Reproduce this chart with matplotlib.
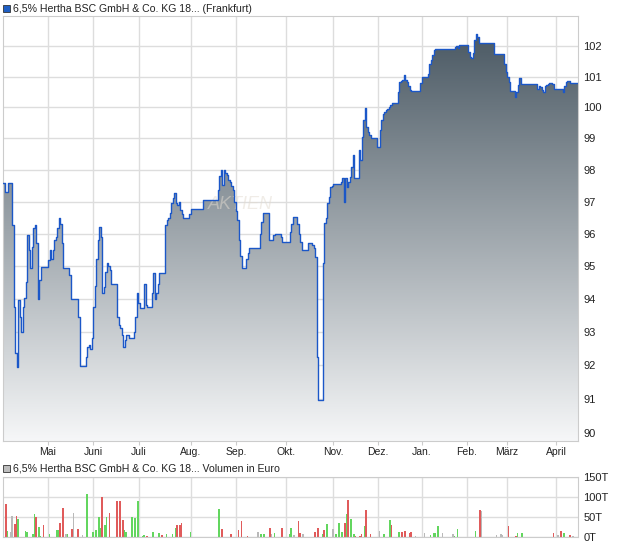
import numpy as np
import matplotlib
matplotlib.use('Agg')
import matplotlib.pyplot as plt
from matplotlib.colors import LinearSegmentedColormap
from matplotlib.patches import Rectangle
from matplotlib.ticker import NullLocator

plt.rcParams['font.family'] = ['Liberation Sans', 'DejaVu Sans']

# price series: day offset where the quote changes, and the new quote
days = [0, 1, 3, 6, 7, 8, 9, 10, 11, 12, 13, 14, 15, 16, 17, 18, 19, 20, 21, 22,
        23, 24, 25, 30, 31, 32, 33, 34, 35, 36, 37, 38, 39, 40, 44, 45, 50, 51, 55, 56,
        57, 58, 59, 60, 61, 62, 63, 64, 65, 66, 67, 68, 69, 70, 71, 72, 76, 77, 78, 79,
        80, 81, 82, 84, 87, 88, 89, 90, 91, 94, 95, 96, 99, 100, 101, 102, 103, 104, 108, 109,
        110, 111, 112, 113, 114, 115, 116, 117, 118, 119, 120, 124, 125, 133, 143, 144, 145, 146, 147, 148,
        149, 150, 151, 152, 153, 154, 155, 156, 157, 158, 159, 162, 163, 164, 171, 172, 173, 177, 180, 181,
        185, 186, 191, 192, 193, 196, 197, 198, 199, 203, 206, 207, 208, 209, 210, 213, 214, 215, 216, 217,
        218, 219, 220, 225, 226, 227, 228, 229, 230, 231, 232, 233, 234, 237, 238, 239, 240, 241, 242, 243,
        244, 245, 249, 251, 252, 253, 254, 255, 256, 257, 258, 259, 263, 264, 265, 266, 267, 268, 269, 270,
        271, 272, 278, 279, 283, 284, 285, 286, 287, 288, 292, 301, 302, 303, 304, 310, 311, 312, 313, 314,
        315, 316, 317, 327, 334, 335, 336, 337, 338, 341, 342, 343, 344, 345, 356, 357, 358, 359, 360, 361,
        362, 363, 364, 366, 367, 373, 374, 375, 376, 378, 383]
prices = [97.57, 97.31, 97.57, 96.26, 93.75, 92.36, 91.95, 93.96, 93.45, 93.0, 93.75, 94.02, 94.51, 95.95, 95.49, 94.93, 95.59, 96.17, 96.26, 95.7,
          94.0, 94.57, 94.97, 95.18, 95.49, 95.2, 95.5, 95.8, 95.9, 96.17, 96.47, 96.3, 95.7, 94.93, 94.72, 94.0, 93.45, 91.97, 92.25, 92.55,
          92.6, 92.48, 92.81, 93.75, 94.4, 95.2, 95.8, 96.21, 95.9, 94.17, 94.36, 94.8, 95.1, 95.0, 94.87, 94.46, 93.45, 93.2, 93.1, 92.9,
          92.55, 92.75, 92.9, 92.8, 93.0, 93.45, 94.17, 93.86, 93.71, 94.46, 93.8, 93.75, 94.17, 94.77, 94.0, 94.17, 94.46, 94.77, 96.26, 96.42,
          96.5, 96.63, 96.94, 97.1, 97.26, 96.94, 96.9, 97.0, 96.73, 96.6, 96.47, 96.6, 96.78, 97.06, 97.36, 97.8, 97.99, 97.52, 97.99, 97.9,
          97.83, 97.67, 97.6, 97.5, 97.36, 97.0, 96.7, 96.42, 95.8, 95.3, 94.95, 95.2, 95.4, 95.54, 96.0, 96.37, 96.63, 95.8, 95.95, 96.0,
          95.9, 95.74, 96.05, 96.3, 96.52, 96.3, 96.0, 95.74, 95.49, 95.71, 95.65, 95.55, 95.28, 92.25, 90.97, 95.1, 96.32, 96.5, 96.94, 97.15,
          97.46, 97.5, 97.54, 97.6, 97.73, 96.99, 97.73, 97.46, 97.6, 97.78, 98.1, 98.47, 97.73, 98.63, 98.31, 99.05, 99.6, 99.97, 99.37, 99.2,
          99.1, 99.0, 98.73, 99.27, 99.6, 99.8, 99.85, 99.93, 99.95, 100.0, 100.07, 100.13, 100.5, 100.83, 100.85, 100.9, 101.05, 100.88, 100.82, 100.7,
          100.55, 100.53, 100.8, 100.99, 101.1, 101.4, 101.55, 101.7, 101.87, 101.89, 101.92, 101.98, 102.0, 101.95, 102.03, 101.81, 101.65, 101.61, 101.76, 102.2,
          102.4, 102.3, 102.1, 101.73, 101.4, 101.15, 101.0, 100.83, 100.53, 100.34, 100.5, 100.72, 100.94, 100.75, 100.61, 100.7, 100.65, 100.55, 100.5, 100.69,
          100.72, 100.75, 100.78, 100.75, 100.58, 100.5, 100.7, 100.82, 100.85, 100.79, 100.79]

# volume in thousand euro, colour: g = up, r = down, n = unchanged
vol_days = [2, 3, 5, 6, 8, 9, 10, 15, 16, 20, 21, 22, 24, 25, 27, 31, 36, 37, 38, 40,
            42, 43, 46, 47, 50, 53, 56, 60, 62, 64, 65, 66, 68, 69, 71, 76, 78, 80, 81, 82,
            86, 88, 90, 93, 94, 96, 100, 104, 106, 109, 113, 115, 116, 118, 119, 125, 144, 146, 152, 157,
            159, 163, 170, 172, 174, 178, 179, 181, 186, 191, 192, 194, 197, 198, 200, 208, 210, 213, 214, 216,
            220, 222, 224, 226, 228, 229, 230, 232, 234, 235, 238, 239, 241, 242, 245, 251, 254, 258, 259, 264,
            266, 268, 271, 272, 275, 281, 285, 287, 288, 290, 293, 300, 301, 303, 315, 318, 319, 329, 332, 333,
            337, 342, 343, 346, 367, 370, 372, 374, 378, 380]
vol_values = [83, 15, 13, 52, 32, 52, 45, 15, 12, 7, 58, 49, 24, 2, 30, 7, 17, 17, 35, 73,
              7, 7, 20, 60, 20, 6, 108, 12, 17, 50, 22, 101, 30, 50, 60, 91, 89, 42, 17, 12,
              50, 47, 91, 3, 6, 3, 12, 9, 4, 8, 8, 22, 30, 30, 35, 12, 70, 20, 7, 17,
              40, 2, 12, 7, 7, 22, 7, 9, 22, 7, 22, 4, 40, 9, 7, 12, 22, 7, 17, 32,
              20, 7, 35, 12, 35, 58, 93, 45, 7, 2, 2, 7, 27, 68, 7, 14, 7, 42, 30, 12,
              12, 15, 10, 12, 3, 11, 5, 9, 10, 27, 9, 8, 3, 21, 16, 67, 65, 5, 8, 6,
              27, 3, 9, 9, 9, 5, 16, 10, 5, 3]
vol_colors = ['r', 'g', 'n', 'n', 'r', 'r', 'g', 'g', 'g', 'g', 'g', 'r', 'g', 'g', 'r', 'g', 'g', 'g', 'r', 'r',
              'n', 'g', 'r', 'n', 'r', 'n', 'g', 'g', 'g', 'g', 'g', 'r', 'g', 'g', 'r', 'r', 'r', 'r', 'g', 'g',
              'g', 'g', 'g', 'g', 'g', 'r', 'g', 'g', 'r', 'g', 'g', 'g', 'r', 'r', 'r', 'g', 'g', 'r', 'r', 'r',
              'r', 'r', 'n', 'g', 'g', 'r', 'n', 'g', 'r', 'g', 'g', 'n', 'r', 'r', 'n', 'r', 'r', 'g', 'r', 'g',
              'n', 'g', 'g', 'g', 'r', 'g', 'r', 'g', 'g', 'r', 'r', 'r', 'g', 'r', 'r', 'n', 'g', 'g', 'r', 'g',
              'r', 'r', 'r', 'r', 'n', 'n', 'g', 'g', 'g', 'g', 'n', 'n', 'g', 'g', 'g', 'r', 'n', 'n', 'n', 'n',
              'r', 'r', 'g', 'g', 'r', 'n', 'r', 'g', 'r', 'n']

month_labels = ['Mai', 'Juni', 'Juli', 'Aug.', 'Sep.', 'Okt.', 'Nov.', 'Dez.', 'Jan.', 'Feb.', 'März', 'April']
month_days = [29.7, 60, 90.7, 125, 155.3, 188.7, 220.3, 250, 279.3, 309.3, 336, 368.7]
price_ticks = list(range(90, 103))
vol_ticks = [0, 50, 100, 150]

W, H = 620, 546
grid_col = '#dddddd'
frame_col = '#cccccc'
color_map = {'g': '#63d65f', 'r': '#e05b5b', 'n': '#b9b9b9'}

fig = plt.figure(figsize=(W / 100, H / 100), dpi=100)

# ---- price panel
ax = fig.add_axes([3 / W, (H - 441) / H, 575 / W, 425 / H])
ax.set_yscale('log')

grad = np.linspace(0, 1, 256).reshape(-1, 1)
cmap = LinearSegmentedColormap.from_list('fill', ['#f6f7f8', '#44535e'])
im = ax.imshow(grad, extent=[0, 1, 0, 1], transform=ax.transAxes, origin='lower',
               aspect='auto', cmap=cmap, zorder=2, interpolation='bilinear')
poly = ax.fill_between(days, prices, 80, step='post', facecolor='none', edgecolor='none')
im.set_clip_path(poly.get_paths()[0], ax.transData)

ax.plot(days, prices, drawstyle='steps-post', color='#1b57c8', lw=1.0, zorder=3)

ax.text(158, 96.9, 'AKTIEN', fontsize=13, style='italic', color='#e2dbd0', alpha=0.5,
        ha='center', va='center', zorder=2.5)

ax.set_xlim(0, 383.3)
ax.set_ylim(89.77, 103.0)
ax.set_yticks(price_ticks)
ax.set_yticklabels([str(t) for t in price_ticks])
ax.yaxis.set_minor_locator(NullLocator())
ax.yaxis.tick_right()
ax.set_xticks(month_days)
ax.set_xticklabels(month_labels)
ax.set_axisbelow(True)
ax.grid(True, color=grid_col, lw=1)
ax.tick_params(axis='y', length=0, pad=4, labelsize=8, labelcolor='#222222')
ax.tick_params(axis='x', length=3, color=frame_col, pad=1.5, labelsize=7.5, labelcolor='#222222')
for s in ax.spines.values():
    s.set_color(frame_col)

# ---- volume panel
ax2 = fig.add_axes([3 / W, (H - 537) / H, 575 / W, 60 / H])
ax2.bar(vol_days, vol_values, width=0.75, color=[color_map[c] for c in vol_colors], zorder=2)
ax2.set_xlim(0, 383.3)
ax2.set_ylim(0, 150)
ax2.set_yticks(vol_ticks)
ax2.set_yticklabels([f'{v}T' for v in vol_ticks])
ax2.yaxis.tick_right()
ax2.set_xticks(month_days)
ax2.set_xticklabels([])
ax2.set_axisbelow(True)
ax2.grid(True, color=grid_col, lw=1)
ax2.tick_params(axis='y', length=0, pad=4, labelsize=8, labelcolor='#222222')
ax2.tick_params(axis='x', length=0)
for s in ax2.spines.values():
    s.set_color(frame_col)

# ---- legends
fig.add_artist(Rectangle((3 / W, 1 - 12 / H), 7 / W, 7 / H, transform=fig.transFigure,
                         facecolor='#1f5fc4', edgecolor='#333333', lw=0.6))
fig.text(13 / W, 1 - 8.5 / H, '6,5% Hertha BSC GmbH & Co. KG 18... (Frankfurt)',
         fontsize=7.6, va='center', color='#222222')
fig.add_artist(Rectangle((3 / W, 1 - 472 / H), 7 / W, 7 / H, transform=fig.transFigure,
                         facecolor='#bdbdbd', edgecolor='#333333', lw=0.6))
fig.text(13 / W, 1 - 468.5 / H, '6,5% Hertha BSC GmbH & Co. KG 18... Volumen in Euro',
         fontsize=7.6, va='center', color='#222222')

fig.savefig('out.png', dpi=100)
